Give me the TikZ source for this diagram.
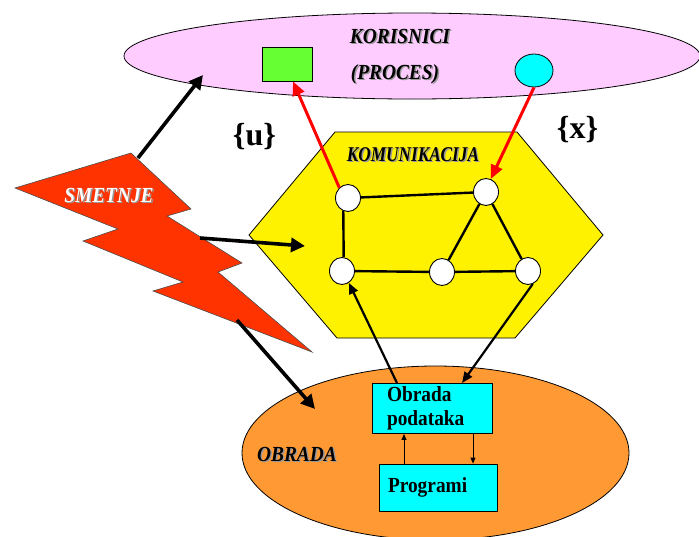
\documentclass[tikz,border=0pt]{standalone}
\usepackage{fontspec}
\setmainfont{Liberation Serif}
\newfontfamily\labelfont[FakeStretch=0.9]{Liberation Serif}
\newfontfamily\narrowfont[FakeStretch=0.82]{Liberation Serif}
\usetikzlibrary{arrows.meta,shapes.geometric}

\definecolor{userpink}{HTML}{FFCCFF}
\definecolor{procorange}{HTML}{FF9933}
\definecolor{boltred}{HTML}{FF3300}
\definecolor{boxcyan}{HTML}{00FFFF}
\definecolor{usergreen}{HTML}{66FF33}

% text with a grey drop shadow
\newcommand{\shadowtext}[2][black]{\makebox[0pt][l]{\hspace{1.4pt}\raisebox{-1.4pt}{\color{black!40}#2}}{\color{#1}#2}}

\tikzset{
  netnode/.style={ellipse, draw=black, line width=0.9pt, fill=white,
                  minimum width=25pt, minimum height=27pt, inner sep=0},
  link/.style={line width=2.4pt},
  bigarrow/.style={line width=3.6pt, -{Triangle[length=14pt,width=14pt]}},
  redarrow/.style={draw=red, line width=3pt, -{Triangle[length=14pt,width=12pt]}},
  dataarrow/.style={line width=2.2pt, -{Triangle[length=11pt,width=9pt]}},
  smallarrow/.style={line width=0.8pt, -{Triangle[length=6pt,width=5pt]}},
  procbox/.style={draw=black, line width=0.8pt, fill=boxcyan, align=left,
                  minimum height=47pt, font=\labelfont\fontsize{21.5}{24}\selectfont\bfseries},
  heading/.style={font=\labelfont\fontsize{21.5}{24}\selectfont\bfseries\itshape},
}

\begin{document}
\begin{tikzpicture}[x=1pt,y=-1pt]
  \useasboundingbox (0,0) rectangle (699,536);

  % users (process) and processing areas
  \draw[fill=userpink, line width=0.8pt] (412,56) ellipse [x radius=288, y radius=43];
  \draw[fill=procorange, line width=0.8pt] (435.5,453) ellipse [x radius=193.5, y radius=87];

  % communication hexagon
  \draw[fill=yellow, line width=0.8pt] (335,132) -- (517,132) -- (603,235)
    -- (515,338) -- (337,338) -- (249,235) -- cycle;

  % interference bolt
  \draw[fill=boltred, draw=black!70, line width=0.6pt] (15,188) -- (131,153) -- (191,209)
    -- (167,216) -- (242,263) -- (218,272) -- (312,352) -- (153,291) -- (183,282)
    -- (83,241) -- (118,229) -- cycle;

  % labels
  \node[heading] (kor) at (400,37) {\shadowtext{KORISNICI}};
  \node[heading] (proc) at (395,75) {\shadowtext{(PROCES)}};
  \node[heading, font=\narrowfont\fontsize{21}{24}\selectfont\bfseries\itshape] (kom)
    at (413,155) {\shadowtext{KOMUNIKACIJA}};
  \node[heading] (smet) at (109,196) {\shadowtext[white]{SMETNJE}};
  \node[heading] (obr) at (297,455) {\shadowtext{OBRADA}};
  \node[font=\fontsize{32}{32}\selectfont\bfseries] (uset) at (254.5,137) {\{u\}};
  \node[font=\fontsize{32}{32}\selectfont\bfseries] (xset) at (577.5,130) {\{x\}};

  % user objects
  \node[draw, fill=usergreen, line width=0.8pt, minimum width=50pt,
        minimum height=34pt, inner sep=0] (grp) at (287,64) {};
  \node[ellipse, draw, fill=boxcyan, line width=0.8pt, minimum width=38pt,
        minimum height=33pt, inner sep=0] (cyc) at (534,70.5) {};

  % network
  \foreach \n/\x/\y in {k1/348/198, k2/486/192, k3/342/271, k4/442/272, k5/528/271}
    \node[netnode] (\n) at (\x,\y) {};
  \foreach \a/\b in {k1/k2, k1.-110/k3.83, k3/k4, k4/k5, k2/k4, k2/k5}
    \draw[link] (\a) -- (\b);

  % processing boxes
  \node[procbox, inner xsep=15pt, text width=90pt] (pbox) at (432,408.5)
    {Obrada\\podataka};
  \node[procbox, inner xsep=9pt, text width=100pt] (prog) at (438,487.5)
    {Programi};

  % arrows
  \draw[redarrow] (k1.130) -- ([xshift=6pt]grp.south);
  \draw[redarrow] (cyc.south) -- (k2.70);
  \draw[dataarrow] ([xshift=-35pt]pbox.north) -- (k3.-60);
  \draw[dataarrow] (k5.-70) -- ([xshift=30pt]pbox.north);
  \draw[smallarrow] ([xshift=-34pt]prog.north) -- ([xshift=-34pt]prog.north |- pbox.south);
  \draw[smallarrow] ([xshift=41pt]pbox.south) -- ([xshift=41pt]pbox.south |- prog.north);

  % interference arrows
  \coordinate (boltup) at (138,158);
  \coordinate (boltmid) at (200,238);
  \coordinate (boltlow) at (237,320);
  \coordinate (usrhit) at (203,75);
  \coordinate (komhit) at (305,246);
  \coordinate (obrhit) at (315,409);
  \draw[bigarrow] (boltup) -- (usrhit);
  \draw[bigarrow] (boltmid) -- (komhit);
  \draw[bigarrow] (boltlow) -- (obrhit);
\end{tikzpicture}
\end{document}
